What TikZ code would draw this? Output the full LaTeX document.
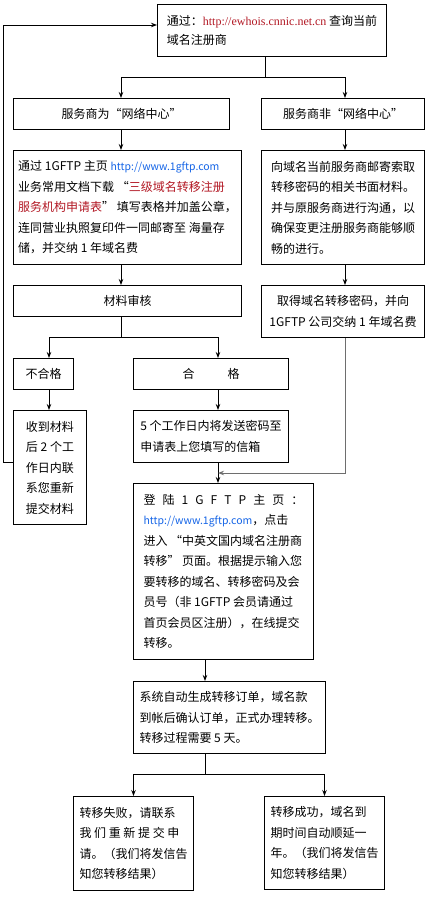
\documentclass[tikz,border=0pt]{standalone}
\usepackage{fontspec}
\setmainfont{Noto Sans CJK SC}
\newfontfamily\urlserif{Liberation Serif}
\usetikzlibrary{arrows.meta}
\definecolor{linkred}{RGB}{178,24,36}
\definecolor{linkblue}{RGB}{20,100,230}
\definecolor{linegray}{RGB}{110,110,110}
\newcommand{\blueurl}[1]{{\color{linkblue}\fontsize{10.5pt}{20.5pt}\selectfont #1}}
\begin{document}
\begin{tikzpicture}[x=1pt,y=-1pt,
  box/.style={draw=black,line width=1pt,rectangle,anchor=north west,inner sep=0pt,align=left,font=\fontsize{12pt}{20.5pt}\selectfont},
  cbox/.style={box,align=center},
  arr/.style={line width=1pt,-{Stealth[length=6pt,width=4.5pt]}},
  ln/.style={line width=1pt}]
\useasboundingbox (0,0) rectangle (425,900);

% nodes
\node[box,minimum width=229pt,minimum height=52pt,font=\fontsize{12pt}{19pt}\selectfont] (n1) at (157,4)
  {通过：{\urlserif\color{linkred}http://ewhois.cnnic.net.cn} 查询当前\\域名注册商};
\node[cbox,minimum width=216pt,minimum height=31pt] (n2L) at (13,98) {服务商为“网络中心”};
\node[cbox,minimum width=163pt,minimum height=31pt] (n2R) at (261,98) {服务商非“网络中心”};
\node[box,minimum width=228pt,minimum height=114pt] (n3L) at (13,150)
  {通过 1GFTP 主页 \blueurl{http://www.1gftp.com}\\
   业务常用文档下载 “{\color{linkred}三级域名转移注册}\\
   {\color{linkred}服务机构申请表}” 填写表格并加盖公章，\\
   连同营业执照复印件一同邮寄至 海量存\\
   储，并交纳 1 年域名费};
\node[box,minimum width=163pt,minimum height=114pt] (n3R) at (261,150)
  {向域名当前服务商邮寄索取\\
   转移密码的相关书面材料。\\
   并与原服务商进行沟通，以\\
   确保变更注册服务商能够顺\\
   畅的进行。};
\node[cbox,minimum width=228pt,minimum height=31pt] (n4L) at (13,285) {材料审核};
\node[cbox,minimum width=163pt,minimum height=52pt] (n4R) at (261,285)
  {取得域名转移密码，并向\\1GFTP 公司交纳 1 年域名费};
\node[cbox,minimum width=60pt,minimum height=31pt] (n5a) at (13,358) {不合格};
\node[cbox,minimum width=155pt,minimum height=31pt] (n5b) at (133,358) {合\hspace{33pt}格};
\node[box,minimum width=73pt,minimum height=114pt] (n6a) at (13,410)
  {收到材料\\后 2 个工\\作日内联\\系您重新\\提交材料};
\node[box,minimum width=155pt,minimum height=52pt] (n6b) at (133,410)
  {5 个工作日内将发送密码至\\申请表上您填写的信箱};
\node[box,minimum width=180pt,minimum height=176pt] (n7) at (133,483)
  {\makebox[160pt][s]{登 陆 1 G F T P 主 页 ：}\\
   \blueurl{http://www.1gftp.com}，点击\\
   进入 “中英文国内域名注册商\\
   转移” 页面。根据提示输入您\\
   要转移的域名、转移密码及会\\
   员号（非 1GFTP 会员请通过\\
   首页会员区注册），在线提交\\
   转移。};
\node[box,minimum width=192pt,minimum height=72pt] (n8) at (133,681)
  {系统自动生成转移订单，域名款\\到帐后确认订单，正式办理转移。\\转移过程需要 5 天。};
\node[box,minimum width=120pt,minimum height=94pt] (n9a) at (73,796)
  {转移失败，请联系\\\makebox[100pt][s]{我 们 重 新 提 交 申}\\请。（我们将发信告\\知您转移结果）};
\node[box,minimum width=120pt,minimum height=93pt] (n9b) at (264,796)
  {转移成功，域名到\\期时间自动顺延一\\年。（我们将发信告\\知您转移结果）};

% column / branch coordinates
\coordinate (cl) at (121,0);
\coordinate (cr) at (345,0);
\coordinate (ca) at (49,0);
\coordinate (cb) at (218,0);
\coordinate (cc) at (205,0);
\coordinate (b1) at (265,77);
\coordinate (b2) at (121,337);
\coordinate (b4) at (205,774);
\coordinate (j) at (218,473);
\coordinate (lp) at (3,462);
\coordinate (lt) at (3,25);

% connectors
\draw[ln] (n1.south -| b1) -- (b1);
\draw[arr] (b1) -| (n2L.north -| cl);
\draw[arr] (b1) -| (n2R.north -| cr);
\draw[arr] (n2L.south -| cl) -- (n3L.north -| cl);
\draw[arr] (n2R.south -| cr) -- (n3R.north -| cr);
\draw[arr] (n3L.south -| cl) -- (n4L.north -| cl);
\draw[arr] (n3R.south -| cr) -- (n4R.north -| cr);
\draw[ln] (n4L.south -| cl) -- (b2);
\draw[arr] (b2) -| (n5a.north -| ca);
\draw[arr] (b2) -| (n5b.north -| cb);
\draw[arr] (n5a.south -| ca) -- (n6a.north -| ca);
\draw[arr] (n5b.south -| cb) -- (n6b.north -| cb);
\draw[arr] (n6b.south -| cb) -- (n7.north -| cb);
\draw[arr,draw=linegray] (n4R.south -| cr) |- (j);
\draw[arr] (n6a.west |- lp) -- (lp) -- (lt) -- (n1.west |- lt);
\draw[arr] (n7.south -| cc) -- (n8.north -| cc);
\draw[ln] (n8.south -| cc) -- (b4);
\draw[arr] (b4) -| (n9a.north);
\draw[arr] (b4) -| (n9b.north);
\end{tikzpicture}
\end{document}
